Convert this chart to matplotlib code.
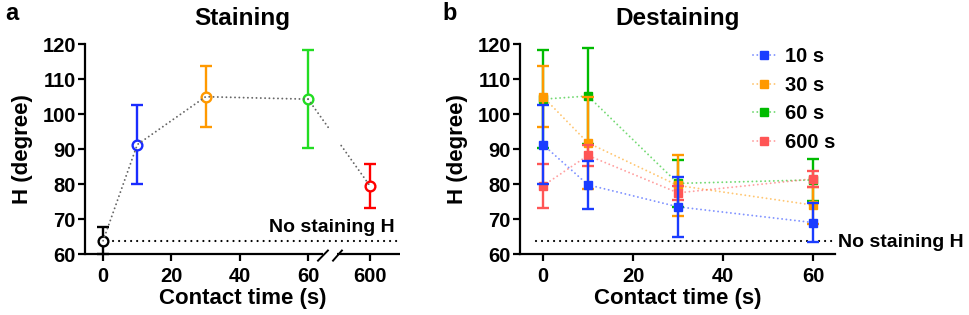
import matplotlib
matplotlib.use("Agg")
import matplotlib.pyplot as plt
import matplotlib.transforms as mtransforms
import numpy as np
from matplotlib.lines import Line2D

plt.rcParams.update({
    "font.family": ["Liberation Sans", "DejaVu Sans"],
    "font.weight": "bold",
    "axes.linewidth": 1.6,
    "xtick.major.width": 1.6,
    "ytick.major.width": 1.6,
    "xtick.major.size": 5,
    "ytick.major.size": 5,
    "xtick.labelsize": 14.5,
    "ytick.labelsize": 14.5,
})

# ---- panel a: staining ----
stain_time = [0, 10, 30, 60, 600]
stain_mean = [63.8, 91.3, 105.0, 104.3, 79.5]
stain_sd = [3.8, 11.2, 8.7, 14.1, 6.2]
stain_colors = ["#000000", "#1a2cff", "#ff9900", "#22dd22", "#ff0000"]
stain_ticks = [0, 20, 40, 60, 600]

# ---- panel b: destaining ----
destain_time = [0, 10, 30, 60]
destain_ticks = [0, 20, 40, 60]
series_labels = ["10 s", "30 s", "60 s", "600 s"]
mean_10s = [91.3, 79.8, 73.5, 69.0]
sd_10s = [11.3, 6.9, 8.5, 5.5]
mean_30s = [105.0, 91.8, 79.6, 74.0]
sd_30s = [8.7, 13.2, 8.7, 5.3]
mean_60s = [104.3, 105.2, 80.2, 81.2]
sd_60s = [14.1, 13.8, 6.7, 6.1]
mean_600s = [79.5, 88.2, 77.5, 81.5]
sd_600s = [6.2, 3.0, 2.0, 2.2]
series_colors = ["#1a3cff", "#ff9900", "#00bb00", "#ff5555"]
series_z = [5, 3, 2, 4]

no_stain_h = 63.7

BREAK_POS = 78.1   # where 600 s sits on the broken axis
GAP_LO, GAP_HI = 65.9, 69.7

fig = plt.figure(figsize=(9.69, 3.15), dpi=100)
W, H = 969, 315
ax_a = fig.add_axes([85 / W, 1 - 254 / H, 315 / W, 209.7 / H])
ax_b = fig.add_axes([520 / W, 1 - 254 / H, 315 / W, 209.7 / H])


def plot_x(t):
    return t if t <= 60 else BREAK_POS


def style_axes(ax):
    ax.spines["top"].set_visible(False)
    ax.spines["right"].set_visible(False)
    ax.set_ylim(60, 120)
    ax.set_yticks(range(60, 121, 10))
    ax.tick_params(axis="y", pad=1.5)
    ax.tick_params(axis="x", pad=4)
    ax.set_ylabel("H (degree)", fontsize=16, fontweight="bold")
    ax.yaxis.set_label_coords(-0.165, 0.5)
    ax.set_xlabel("Contact time (s)", fontsize=16, fontweight="bold")
    ax.xaxis.set_label_coords(0.5, -0.16)


def ref_line(ax):
    ax.axhline(no_stain_h, xmin=0.05, xmax=0.99, color="black", lw=1.6,
               linestyle=(0, (0.01, 2.7)), dash_capstyle="round", zorder=1)


# panel a
ax = ax_a
style_axes(ax)
ax.set_xlim(-5.3, 86.9)
xs = [plot_x(t) for t in stain_time]
ax.set_xticks([plot_x(t) for t in stain_ticks])
ax.set_xticklabels([str(t) for t in stain_ticks])
ref_line(ax)

line_kw = dict(color="#666666", lw=1.4, linestyle=(0, (0.01, 2.2)),
               dash_capstyle="round", zorder=6)
ax.plot(xs[:4], stain_mean[:4], **line_kw)
gy = np.interp([GAP_LO, GAP_HI], [xs[3], xs[4]], [stain_mean[3], stain_mean[4]])
ax.plot([xs[3], GAP_LO], [stain_mean[3], gy[0]], **line_kw)
ax.plot([GAP_HI, xs[4]], [gy[1], stain_mean[4]], **line_kw)

for x, m, s, c in zip(xs, stain_mean, stain_sd, stain_colors):
    ax.errorbar(x, m, yerr=s, fmt="o", color=c, mfc="white", mec=c, mew=1.7,
                ms=7, elinewidth=1.7, capsize=4.2, capthick=1.7, zorder=4,
                clip_on=False)

ax.text(0.984, 0.106, "No staining H", transform=ax.transAxes, ha="right",
        va="baseline", fontsize=14, fontweight="bold")

# broken x axis
ax.spines["bottom"].set_visible(False)
trans = mtransforms.blended_transform_factory(ax.transData, ax.transAxes)
ax.plot([-5.3, 64.35], [0, 0], color="black", lw=1.6, transform=trans,
        clip_on=False, solid_capstyle="butt")
ax.plot([68.6, 86.9], [0, 0], color="black", lw=1.6, transform=trans,
        clip_on=False, solid_capstyle="butt")
ax.plot([62.9, 65.8], [58.1, 61.0], color="black", lw=1.4, clip_on=False)
ax.plot([67.3, 69.9], [58.1, 61.0], color="black", lw=1.4, clip_on=False)
ax.set_title("Staining", fontsize=17.5, fontweight="bold", pad=14)

# panel b
ax = ax_b
style_axes(ax)
ax.set_xlim(-5.1, 64.9)
ax.set_xticks(destain_ticks)
ref_line(ax)

means = [mean_10s, mean_30s, mean_60s, mean_600s]
sds = [sd_10s, sd_30s, sd_60s, sd_600s]
handles = []
for lab, m, s, c, z in zip(series_labels, means, sds, series_colors, series_z):
    ax.plot(destain_time, m, color=c, alpha=0.55, lw=1.4,
            linestyle=(0, (0.01, 2.2)), dash_capstyle="round", zorder=z)
    ax.errorbar(destain_time, m, yerr=s, fmt="s", color=c, ms=6,
                elinewidth=1.7, capsize=4.2, capthick=1.7, zorder=z + 0.5,
                clip_on=False)
    mk = Line2D([], [], color=c, marker="s", ms=6, linestyle="none")
    handles.append((Line2D([], [], color=c, alpha=0.55, lw=1.4,
                           linestyle=(0, (0.01, 2.2)), dash_capstyle="round"), mk))

ax.legend(handles, series_labels, loc="upper left",
          bbox_to_anchor=(753 / W, 1 - 47 / H), bbox_transform=fig.transFigure,
          frameon=False, fontsize=14.5, handlelength=1.1, handletextpad=0.5,
          labelspacing=0.48, borderpad=0, borderaxespad=0)

ax.text(1.01, 0.033, "No staining H", transform=ax.transAxes, ha="left",
        va="baseline", fontsize=14, fontweight="bold", clip_on=False)
ax.set_title("Destaining", fontsize=17.5, fontweight="bold", pad=14)

fig.text(5 / W, 1 - 20 / H, "a", fontsize=17, fontweight="bold", va="baseline")
fig.text(442 / W, 1 - 20 / H, "b", fontsize=17, fontweight="bold", va="baseline")

fig.savefig("out.png", dpi=100)
